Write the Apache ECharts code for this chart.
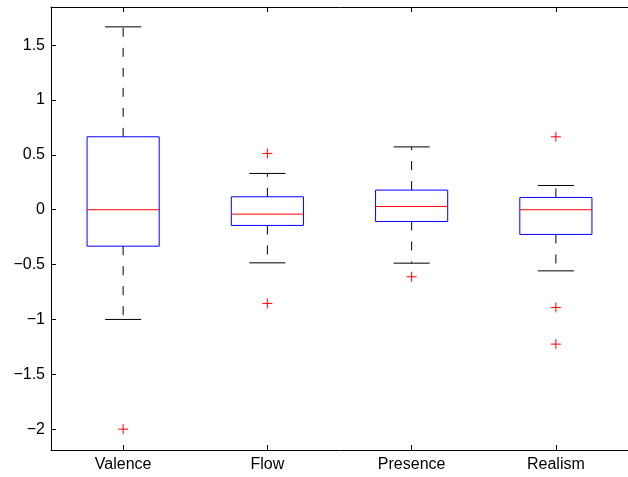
<!DOCTYPE html>
<html>
<head>
<meta charset="utf-8">
<script src="https://cdn.jsdelivr.net/npm/echarts@6/dist/echarts.min.js"></script>
<style>html,body{margin:0;padding:0;background:#fff;}#c{width:628px;height:477px;}</style>
</head>
<body>
<div id="c"></div>
<script>
var categories = ['Valence', 'Flow', 'Presence', 'Realism'];
var lowerWhisker = [-1.0, -0.484, -0.487, -0.557];
var q1 = [-0.332, -0.143, -0.107, -0.225];
var medians = [0.0, -0.04, 0.03, 0.0];
var q3 = [0.665, 0.118, 0.179, 0.112];
var upperWhisker = [1.667, 0.331, 0.573, 0.221];
var outlierCat = [0, 1, 1, 2, 3, 3, 3];
var outlierVal = [-2.0, 0.513, -0.854, -0.611, 0.665, -0.891, -1.225];
var yTicks = [-2, -1.5, -1, -0.5, 0, 0.5, 1, 1.5];
var yMin = -2.19, yMax = 1.848;

var boxData = categories.map(function (c, i) {
  return [i, lowerWhisker[i], q1[i], medians[i], q3[i], upperWhisker[i]];
});
var outData = outlierCat.map(function (c, i) { return [c, outlierVal[i]]; });

function fmt(v) {
  var s = String(v);
  return v < 0 ? '\u2212' + s.slice(1) : s;
}

var chart = echarts.init(document.getElementById('c'), null, {renderer: 'canvas'});
var font = 'Liberation Sans, Arial, Helvetica, sans-serif';
chart.setOption({
  animation: false,
  backgroundColor: '#fff',
  grid: {left: 51, top: 7, width: 586, height: 443, containLabel: false},
  xAxis: [{
    type: 'category', data: categories, position: 'bottom',
    axisLine: {show: true, onZero: false, lineStyle: {color: '#000', width: 1}},
    axisTick: {show: true, inside: true, length: 5, alignWithLabel: true, lineStyle: {color: '#000'}},
    axisLabel: {color: '#000', fontSize: 16, fontFamily: font, margin: 7},
    splitLine: {show: false}
  }, {
    type: 'category', data: categories, position: 'top',
    axisLine: {show: true, onZero: false, lineStyle: {color: '#000', width: 1}},
    axisTick: {show: true, inside: true, length: 5, alignWithLabel: true, lineStyle: {color: '#000'}},
    axisLabel: {show: false},
    splitLine: {show: false}
  }],
  yAxis: [{
    type: 'value', min: yMin, max: yMax,
    axisLine: {show: true, onZero: false, lineStyle: {color: '#000', width: 1}},
    axisTick: {show: true, inside: true, length: 5, customValues: yTicks, lineStyle: {color: '#000'}},
    axisLabel: {color: '#000', fontSize: 16, fontFamily: font, margin: 6, customValues: yTicks, formatter: fmt},
    splitLine: {show: false}
  }],
  series: [{
    type: 'custom',
    data: boxData,
    renderItem: function (params, api) {
      var x = api.value(0);
      var band = api.size([1, 0])[0];
      var hw = band * 0.25, cw = band * 0.125;
      var cx = api.coord([x, 0])[0];
      var yLo = api.coord([x, api.value(1)])[1];
      var yQ1 = api.coord([x, api.value(2)])[1];
      var yMd = api.coord([x, api.value(3)])[1];
      var yQ3 = api.coord([x, api.value(4)])[1];
      var yHi = api.coord([x, api.value(5)])[1];
      var dash = {stroke: '#000', lineWidth: 1, lineDash: [9, 11]};
      var solid = {stroke: '#000', lineWidth: 1};
      return {
        type: 'group',
        children: [
          {type: 'line', shape: {x1: cx, y1: yQ3, x2: cx, y2: yHi}, style: dash},
          {type: 'line', shape: {x1: cx, y1: yQ1, x2: cx, y2: yLo}, style: dash},
          {type: 'line', shape: {x1: cx - cw, y1: yHi, x2: cx + cw, y2: yHi}, style: solid},
          {type: 'line', shape: {x1: cx - cw, y1: yLo, x2: cx + cw, y2: yLo}, style: solid},
          {type: 'rect', shape: {x: cx - hw, y: yQ3, width: 2 * hw, height: yQ1 - yQ3}, style: {fill: 'none', stroke: '#0000ff', lineWidth: 1}},
          {type: 'line', shape: {x1: cx - hw, y1: yMd, x2: cx + hw, y2: yMd}, style: {stroke: '#ff0000', lineWidth: 1}}
        ]
      };
    }
  }, {
    type: 'custom',
    data: outData,
    renderItem: function (params, api) {
      var p = api.coord([api.value(0), api.value(1)]);
      var s = 5;
      var st = {stroke: '#ff0000', lineWidth: 1};
      return {
        type: 'group',
        children: [
          {type: 'line', shape: {x1: p[0] - s, y1: p[1], x2: p[0] + s, y2: p[1]}, style: st},
          {type: 'line', shape: {x1: p[0], y1: p[1] - s, x2: p[0], y2: p[1] + s}, style: st}
        ]
      };
    }
  }]
});
</script>
</body>
</html>
